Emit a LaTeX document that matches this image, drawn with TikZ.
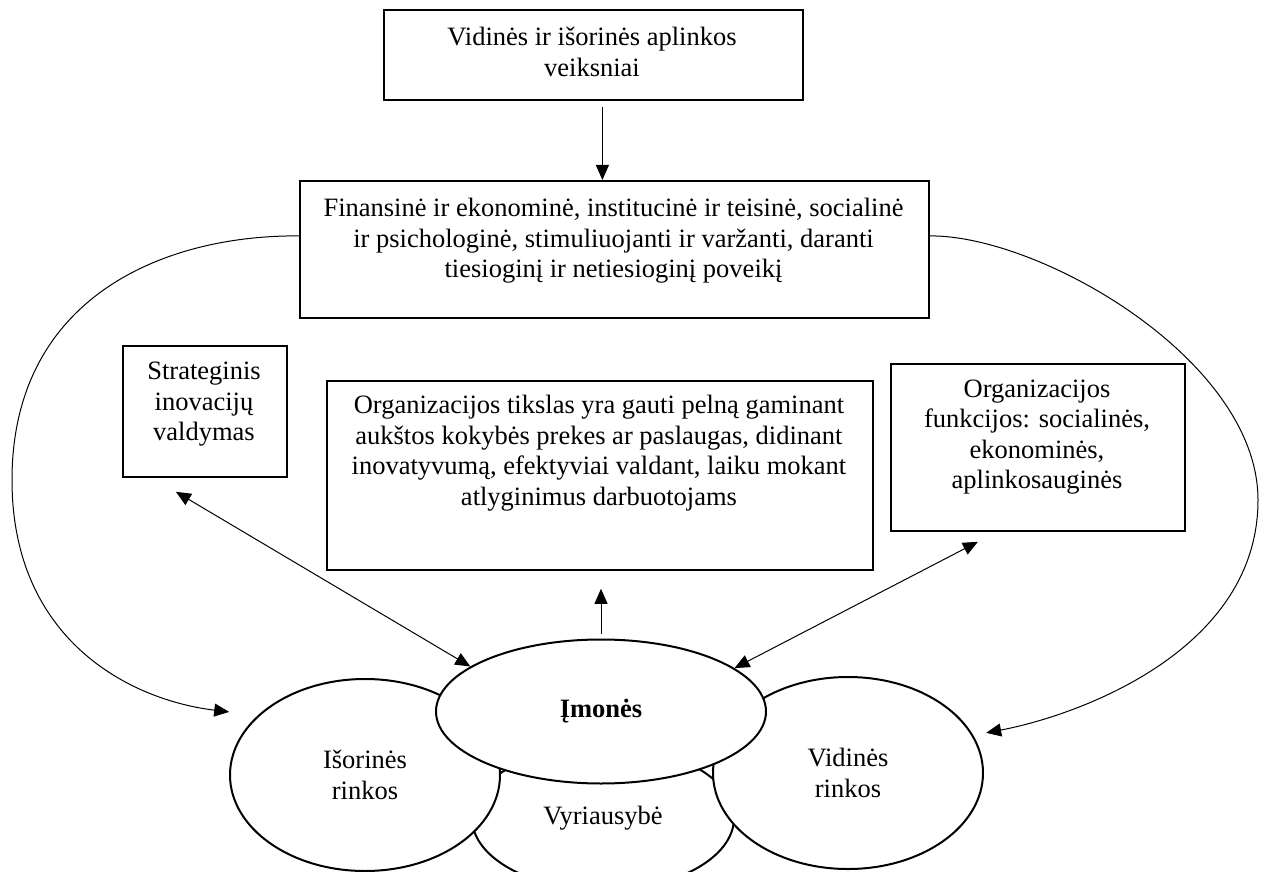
\documentclass[tikz,border=0pt]{standalone}
\usepackage{fontspec}
\setmainfont{Liberation Serif}
\usetikzlibrary{arrows.meta,shapes.geometric}
\begin{document}
\begin{tikzpicture}[x=1pt,y=-1pt,
  every node/.style={font=\fontsize{26.5}{30.5}\selectfont},
  box/.style={draw, line width=1.8pt, inner sep=0pt, anchor=north west},
  txt/.style={align=center, inner sep=0pt},
  oval/.style={draw, ellipse, line width=2pt, fill=white, inner sep=0pt, align=center},
  link/.style={line width=1pt, -{Triangle[length=15pt,width=13pt]}},
  twoway/.style={line width=1pt, {Triangle[length=15pt,width=13pt]}-{Triangle[length=15pt,width=13pt]}},
]
\useasboundingbox (0,0) rectangle (1267,872);
\clip (0,0) rectangle (1267,872);

% boxes with their texts
\node[box, minimum width=419pt, minimum height=90pt] (src) at (383,9) {};
\node[txt] (srcT) at (592,52) {Vidinės ir išorinės aplinkos\\veiksniai};

\node[box, minimum width=629pt, minimum height=137pt] (forms) at (299,180) {};
\node[txt] (formsT) at (613.5,241) {Finansinė ir ekonominė, institucinė ir teisinė, socialinė\\ir psichologinė, stimuliuojanti ir varžanti, daranti\\tiesioginį ir netiesioginį poveikį};

\node[box, minimum width=164pt, minimum height=131pt] (strat) at (122,345) {};
\node[txt] (stratT) at (204,404.5) {Strateginis\\inovacijų\\valdymas};

\node[box, minimum width=546pt, minimum height=189pt] (goal) at (326,380) {};
\node[txt] (goalT) at (599,453) {Organizacijos tikslas yra gauti pelną gaminant\\aukštos kokybės prekes ar paslaugas, didinant\\inovatyvumą, efektyviai valdant, laiku mokant\\atlyginimus darbuotojams};

\node[box, minimum width=294pt, minimum height=167pt] (func) at (890,363) {};
\node[txt] (funcT) at (1037,437) {Organizacijos\\funkcijos: socialinės,\\ekonominės,\\aplinkosauginės};

% overlapping ellipses, back to front
\node[oval, minimum width=262pt, minimum height=144pt] (gov) at (603,818) {Vyriausybė};
\node[oval, minimum width=270pt, minimum height=192pt] (isor) at (365,775) {Išorinės\\rinkos};
\node[oval, minimum width=270pt, minimum height=192pt] (vid) at (848,773) {Vidinės\\rinkos};
\node[oval, minimum width=330pt, minimum height=144pt,
      font=\fontsize{26.5}{30.5}\selectfont\bfseries] (imones) at (601,711.5) {Įmonės};

% straight connectors
\coordinate (srcOut) at ([xshift=9pt,yshift=-6pt]src.south);
\draw[link] (srcOut) -- (srcOut |- forms.north);

\coordinate (imTop) at ([yshift=5pt]imones.north);
\draw[link, shorten >=18pt] (imTop) -- (imTop |- goal.south);

\draw[twoway] ([xshift=-29pt,yshift=-14pt]strat.south) -- (imones.161);
\draw[twoway] ([xshift=-60pt,yshift=-10pt]func.south) -- (imones.18);

% curved connectors around the sides
\draw[link] ([yshift=13.5pt]forms.west) .. controls (160,235) and (12,300) .. (12,480)
  .. controls (12,640) and (130,700) .. ([xshift=-22pt,yshift=10pt]isor.155);
\draw[link] ([yshift=13.5pt]forms.east) .. controls (1040,235) and (1258,360) .. (1258,500)
  .. controls (1258,650) and (1080,715) .. ([xshift=12pt,yshift=4pt]vid.16);
\end{tikzpicture}
\end{document}
